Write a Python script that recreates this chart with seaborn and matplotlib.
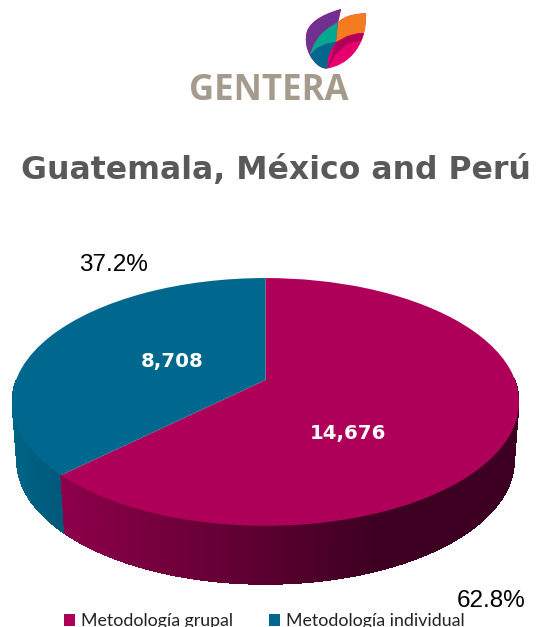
import numpy as np
import matplotlib
matplotlib.use("Agg")
import matplotlib.pyplot as plt
import seaborn as sns
from matplotlib.patches import PathPatch
from matplotlib.path import Path
from matplotlib.transforms import Transform

categories = ["Metodología grupal", "Metodología individual"]
values = [14676, 8708]
value_labels = ["14,676", "8,708"]
pct_labels = ["62.8%", "37.2%"]
title = "Guatemala, México and Perú"

top_colors = ["#AE0058", "#00688E"]
wall_left = ["#8E004A", "#006587"]
wall_right = ["#3E0022", "#00587A"]

sns.set_theme(style="white")
plt.rcParams["font.family"] = ["DejaVu Sans"]


class Tilt(Transform):
    # perspective view of the unit disc, output in image pixels
    input_dims = 2
    output_dims = 2

    def __init__(self, drop=0.0, shrink=1.0):
        super().__init__()
        self.drop = drop
        self.shrink = shrink

    def transform_non_affine(self, xy):
        xy = np.asarray(xy, dtype=float)
        d = 1 + 0.177 * xy[:, 1]
        px = 265.5 + self.shrink * 249.5 * xy[:, 0] / d
        py = 380 + self.drop - 120 * xy[:, 1] / d
        return np.column_stack([px, py])


fig = plt.figure(figsize=(5.37, 6.27), dpi=100)
ax = fig.add_axes([0, 0, 1, 1])

wedges, _ = ax.pie(values, colors=top_colors, startangle=90, counterclock=False)
ax.set_aspect("auto")
ax.set_xlim(0, 537)
ax.set_ylim(627, 0)
ax.axis("off")

top = Tilt()
low = Tilt(drop=58.5, shrink=0.982)

# side wall, drawn in thin strips from the slice angles
split = 90 - 360 * values[0] / sum(values)
angles = np.arange(180, 361, 0.25)
xmin, xmax = 12, 519
x_split = top.transform(np.array([[np.cos(np.radians(split)), np.sin(np.radians(split))]]))[0, 0]
for a0, a1 in zip(angles[:-1], angles[1:]):
    uv = np.array([[np.cos(np.radians(a)), np.sin(np.radians(a))] for a in (a0, a1 + 0.25)])
    p_top = top.transform(uv)
    p_low = low.transform(uv)
    poly = np.vstack([p_top, p_low[::-1]])
    mid = (a0 + a1) / 2
    i = 1 if mid < split + 360 else 0
    if i == 0:
        f = np.clip((poly[:, 0].mean() - x_split) / (375 - x_split), 0, 1)
    else:
        f = np.clip((poly[:, 0].mean() - xmin) / (x_split - xmin), 0, 1)
    c0 = np.array(matplotlib.colors.to_rgb(wall_left[i]))
    c1 = np.array(matplotlib.colors.to_rgb(wall_right[i]))
    ax.fill(poly[:, 0], poly[:, 1], color=c0 + (c1 - c0) * f, lw=0, zorder=1, antialiased=False)

for w in wedges:
    w.set_transform(top + ax.transData)
    w.set_zorder(2)
    w.set_linewidth(0)

ax.text(172, 361, value_labels[1], color="white", fontsize=14.2, fontweight="bold",
        ha="center", va="center", zorder=3)
ax.text(348, 433, value_labels[0], color="white", fontsize=14.2, fontweight="bold",
        ha="center", va="center", zorder=3)
ax.text(113, 265, pct_labels[1], color="black", fontsize=17.5, family="Liberation Sans",
        ha="center", va="center")
ax.text(491, 601, pct_labels[0], color="black", fontsize=17.5, family="Liberation Sans",
        ha="center", va="center")

ax.text(275.5, 179.5, title, color="#595959", fontsize=22.7, fontweight="bold",
        ha="center", va="baseline")

# logo
clip = PathPatch(Path(
    [(341, 9), (320, 15), (306, 24), (306, 37), (305, 47), (310, 57), (313, 60),
     (317, 66), (323, 69), (327, 68.5), (345, 66), (367, 50), (366, 13),
     (356, 14), (344, 15), (338, 23), (341, 9)],
    [1, 4, 4, 4, 4, 4, 4, 4, 4, 4, 4, 4, 4, 4, 4, 4, 2]), fc="none", lw=0, transform=ax.transData)
ax.add_patch(clip)
logo_parts = [
    ("#E5006E", [(300, 0), (375, 0), (375, 75), (300, 75)]),
    ("#B0005A", [(336, 42), (350, 35), (372, 32), (372, 42), (358, 41), (347, 44), (335, 55), (327, 70)]),
    ("#F47B20", [(338, 22), (345, 3), (372, 3), (372, 33), (358, 33), (347, 36), (336, 42)]),
    ("#71308F", [(300, 3), (345, 3), (338, 22), (328, 28), (320, 35), (314, 44), (309, 56), (300, 70)]),
    ("#00A88F", [(338, 22), (336, 42), (326, 44), (317, 48), (309, 56), (314, 44), (320, 35), (328, 28)]),
    ("#00678F", [(309, 56), (317, 48), (326, 44), (336, 42), (331, 50), (328, 58), (327, 72), (300, 72)]),
]
for color, pts in logo_parts:
    xs, ys = zip(*pts)
    patch = ax.fill(xs, ys, color=color, lw=0, zorder=2)[0]
    patch.set_clip_path(clip)
ax.text(269, 91.5, "GENTERA", color="#A59B8C", fontsize=25, fontweight="bold",
        family="Open Sans", ha="center", va="center")

ax.legend(wedges, categories, ncol=2, loc="lower left", bbox_to_anchor=(64 / 537, -2 / 627),
          frameon=False, prop={"family": "Lato", "size": 12.8}, handlelength=0.62, handleheight=0.62,
          handletextpad=0.35, columnspacing=2.0, labelcolor="#222222", borderpad=0, borderaxespad=0)

fig.savefig("out.png", dpi=100)
